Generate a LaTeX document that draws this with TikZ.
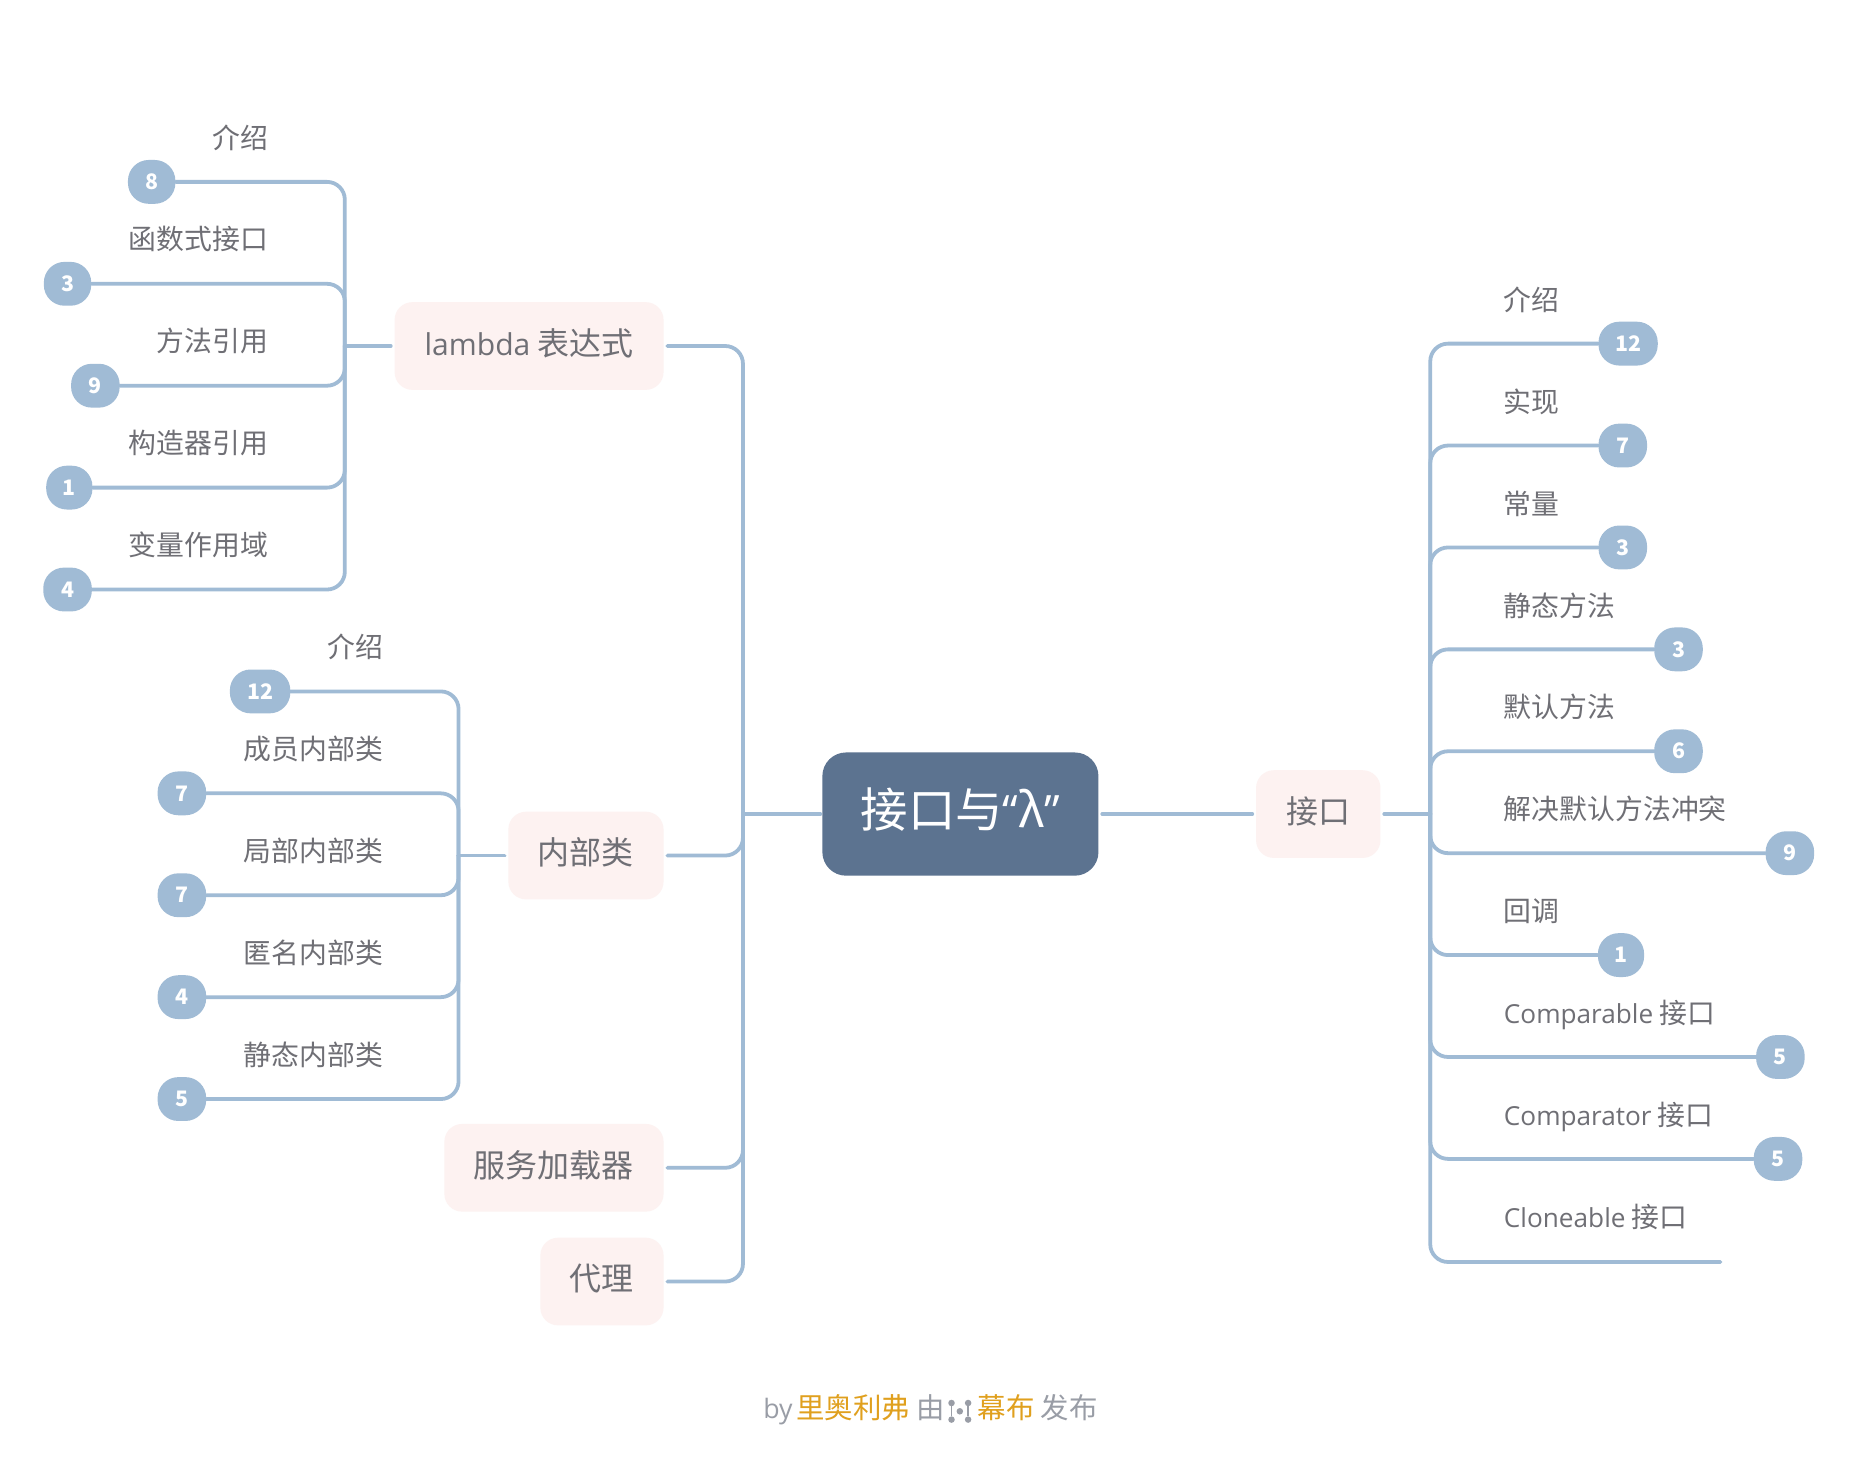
\documentclass[tikz,border=0pt]{standalone}
\usepackage{fontspec}
\setmainfont{Noto Sans CJK SC}
\newfontfamily\lat[Scale=0.94]{Open Sans}
\definecolor{linkc}{HTML}{A0BBD5}
\definecolor{rootc}{HTML}{5C7390}
\definecolor{branchc}{HTML}{FDF2F1}
\definecolor{textc}{HTML}{6F6F75}
\definecolor{footc}{HTML}{999DA6}
\definecolor{orangec}{HTML}{E0A01E}
\tikzset{
  link/.style={draw=linkc,line width=3.2pt,rounded corners=15pt,line cap=round},
  rootbox/.style={fill=rootc,text=white,rounded corners=20pt,inner sep=0pt,text height=30pt,text depth=7.6pt,font=\fontsize{40}{40}\selectfont},
  branchbox/.style={fill=branchc,text=textc,rounded corners=15pt,inner sep=0pt,minimum height=74pt,text height=22pt,text depth=6.4pt,font=\fontsize{27}{27}\selectfont},
  badge/.style={fill=linkc,text=white,rounded corners=17.5pt,inner sep=0pt,minimum height=37pt,text height=14pt,text depth=1pt,font=\fontsize{18}{18}\selectfont\bfseries},
  lefttext/.style={text=textc,anchor=east,inner sep=0pt,text height=24pt,text depth=6.2pt,font=\fontsize{23.5}{23.5}\selectfont},
  righttext/.style={text=textc,anchor=west,inner sep=0pt,text height=24pt,text depth=6.2pt,font=\fontsize{23.5}{23.5}\selectfont},
  foot/.style={text=footc,anchor=west,inner sep=0pt,text height=24pt,text depth=5.8pt,font=\fontsize{24}{24}\selectfont},
  logo/.style={draw=footc,line width=1.5pt},
  logodot/.style={circle,fill=footc,inner sep=0pt,minimum size=5.5pt},
}
\begin{document}
\begin{tikzpicture}[x=1pt,y=-1pt]
\useasboundingbox[fill=white] (0,0) rectangle (1568,1232);
% hubs
\coordinate (hubR) at (627,687);
\coordinate (hubA) at (291,292);
\coordinate (hubB) at (387,722);
\coordinate (hubC) at (1207,687);
% main nodes
\node[rootbox,minimum width=233pt,minimum height=104pt] (root) at (810.5,687) {接口与{\lat “}λ{\lat ”}};
\node[branchbox,minimum width=227pt] (lam) at (446.5,292) {{\lat lambda} 表达式};
\node[branchbox,minimum width=131pt] (inner) at (494.5,722) {内部类};
\node[branchbox,minimum width=185pt] (svc) at (467.5,985.5) {服务加载器};
\node[branchbox,minimum width=104pt] (proxy) at (508,1081.5) {代理};
\node[branchbox,minimum width=105pt] (iface) at (1112.5,687) {接口};
% lambda leaves
\node[badge,minimum width=40pt] (a1) at (128,153.5) {8};
\node[badge,minimum width=40pt] (a2) at (57,239.5) {3};
\node[badge,minimum width=41pt] (a3) at (80.5,325.5) {9};
\node[badge,minimum width=39pt] (a4) at (58.5,411.5) {1};
\node[badge,minimum width=41pt] (a5) at (57,497.5) {4};
\node[lefttext] (ta1) at (226.5,116) {介绍};
\node[lefttext] (ta2) at (226.5,202) {函数式接口};
\node[lefttext] (ta3) at (226.5,288) {方法引用};
\node[lefttext] (ta4) at (226.5,374) {构造器引用};
\node[lefttext] (ta5) at (226.5,460) {变量作用域};
% inner-class leaves
\node[badge,minimum width=51pt] (b1) at (219.5,583.5) {12};
\node[badge,minimum width=41pt] (b2) at (153.5,669.5) {7};
\node[badge,minimum width=41pt] (b3) at (153.5,755.5) {7};
\node[badge,minimum width=41pt] (b4) at (153.5,841.5) {4};
\node[badge,minimum width=41pt] (b5) at (153.5,927.5) {5};
\node[lefttext] (tb1) at (323.5,546) {介绍};
\node[lefttext] (tb2) at (323.5,632) {成员内部类};
\node[lefttext] (tb3) at (323.5,718) {局部内部类};
\node[lefttext] (tb4) at (323.5,804) {匿名内部类};
\node[lefttext] (tb5) at (323.5,890) {静态内部类};
% interface leaves
\node[badge,minimum width=50pt] (c1) at (1374,290) {12};
\node[badge,minimum width=41pt] (c2) at (1369.5,376) {7};
\node[badge,minimum width=41pt] (c3) at (1369.5,462) {3};
\node[badge,minimum width=41pt] (c4) at (1416.5,548) {3};
\node[badge,minimum width=41pt] (c5) at (1416.5,634) {6};
\node[badge,minimum width=41pt] (c6) at (1510.5,720) {9};
\node[badge,minimum width=39pt] (c7) at (1368,806) {1};
\node[badge,minimum width=41pt] (c8) at (1502.5,892) {5};
\node[badge,minimum width=41pt] (c9) at (1500.5,978) {5};
\coordinate (c10) at (1452,1065);
\node[righttext] (tc1) at (1269,253) {介绍};
\node[righttext] (tc2) at (1269,339) {实现};
\node[righttext] (tc3) at (1269,425) {常量};
\node[righttext] (tc4) at (1269,511) {静态方法};
\node[righttext] (tc5) at (1269,597) {默认方法};
\node[righttext] (tc6) at (1269,683) {解决默认方法冲突};
\node[righttext] (tc7) at (1269,769) {回调};
\node[righttext] (tc8) at (1269,855) {{\lat Comparable} 接口};
\node[righttext] (tc9) at (1269,941) {{\lat Comparator} 接口};
\node[righttext] (tc10) at (1269,1027) {{\lat Cloneable} 接口};
% connectors
\draw[link,shorten <=1.5pt] (root.west) -- (hubR);
\draw[link,shorten >=3pt] (hubR) |- (lam.east);
\draw[link,shorten >=3pt] (hubR) |- (inner.east);
\draw[link,shorten >=3pt] (hubR) |- (svc.east);
\draw[link,shorten >=3pt] (hubR) |- (proxy.east);
\draw[link,shorten <=3pt,shorten >=3pt] (root.east) -- (iface.west);
\draw[link,shorten <=3pt] (lam.west) -- (hubA);
\draw[link,shorten <=3pt] (inner.west) -- (hubB);
\draw[link,shorten <=3pt] (iface.east) -- (hubC);
\foreach \n in {a1,a2,a3,a4,a5} \draw[link] (hubA) |- (\n.east);
\foreach \n in {b1,b2,b3,b4,b5} \draw[link] (hubB) |- (\n.east);
\foreach \n in {c1,c2,c3,c4,c5,c6,c7,c8,c9} \draw[link] (hubC) |- (\n.west);
\draw[link] (hubC) |- (c10);
% footer
\node[foot] (f0) at (644,1188) {\lat by};
\node[foot] (f1) at (672,1188) {\textcolor{orangec}{里奥利弗}\hspace{5pt}由};
\node[logodot] (ld1) at (803,1184) {};
\node[logodot] (ld2) at (803,1198) {};
\node[logodot] (ld3) at (810,1191) {};
\node[logodot] (ld4) at (817,1184) {};
\node[logodot] (ld5) at (817,1198) {};
\draw[logo] (ld1) -- (ld2);
\draw[logo] (ld4) -- (ld5);
\node[foot] (f2) at (825,1188) {\textcolor{orangec}{幕布}\hspace{5pt}发布};
\end{tikzpicture}
\end{document}
